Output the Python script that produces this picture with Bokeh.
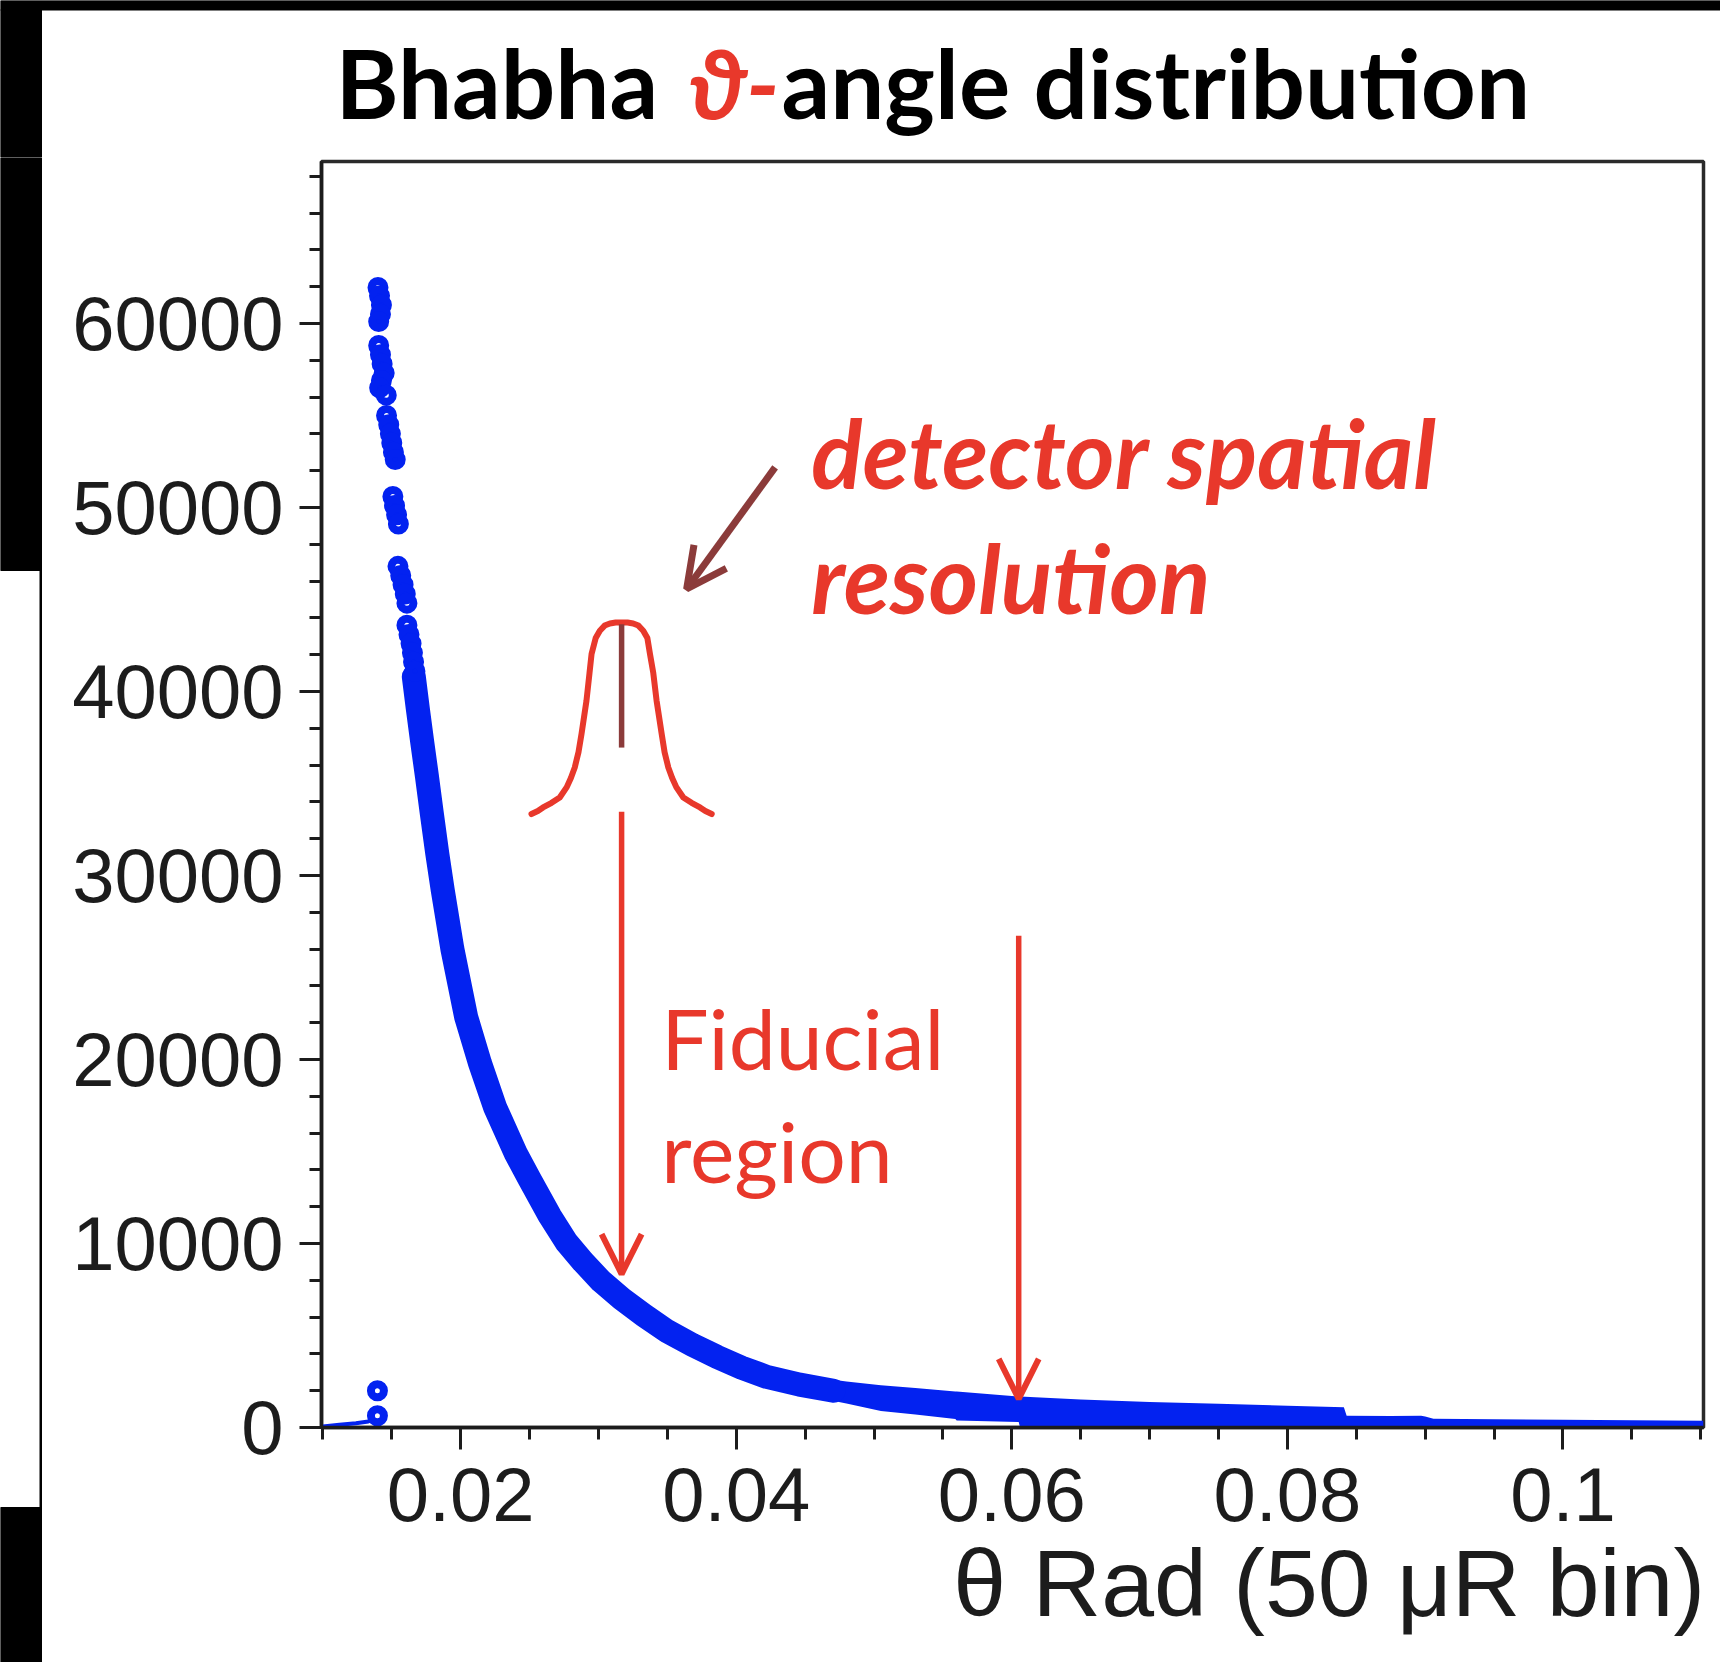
from bokeh.plotting import figure
from bokeh.layouts import column, row
from bokeh.models import (FixedTicker, Arrow, OpenHead, Range1d,
                          PrintfTickFormatter)
from bokeh.core.properties import value
from bokeh.embed import file_html
from bokeh.resources import INLINE

# ---------------------------------------------------------------- data
# steep low-angle part: individual bins (theta [rad], counts)
theta_pts = [0.01400, 0.01411, 0.01425, 0.01418, 0.01405,
             0.01405, 0.01418, 0.01430, 0.01445, 0.01425, 0.01412, 0.01460,
             0.01462, 0.01478, 0.01490, 0.01500, 0.01512, 0.01525,
             0.01508, 0.01520, 0.01535, 0.01548,
             0.01545, 0.01565, 0.01582, 0.01598, 0.01610,
             0.01610, 0.01625, 0.01640, 0.01650, 0.01658, 0.01668,
             0.01396, 0.01396]
counts_pts = [61950, 61500, 61000, 60500, 60100,
              58800, 58300, 57800, 57300, 56900, 56500, 56100,
              55000, 54500, 54000, 53500, 53000, 52600,
              50600, 50100, 49600, 49100,
              46800, 46300, 45800, 45300, 44800,
              43600, 43100, 42600, 42100, 41600, 41100,
              1995, 636]

# low-count entries below the acceptance edge
theta_low = [0.0100, 0.0112, 0.0124, 0.0133, 0.0138]
counts_low = [60, 150, 230, 330, 450]

# dense part of the distribution (band centre)
theta_band = [0.01660, 0.01690, 0.01720, 0.01755, 0.01790, 0.01830, 0.01870,
              0.01940, 0.02040, 0.02140, 0.02250, 0.02400, 0.02500, 0.02647,
              0.02770, 0.02889, 0.03020, 0.03168, 0.03330, 0.03495, 0.03680,
              0.03858, 0.04040, 0.04222, 0.04460, 0.04706]
counts_band = [40800, 39000, 37300, 35400, 33400, 31200, 29200,
               26000, 22300, 19800, 17400, 14900, 13500, 11500,
               10050, 9000, 7950, 7000, 6100, 5250, 4500,
               3850, 3250, 2750, 2330, 2000]

# large-angle tail: spread of the bins (lower / upper envelope)
theta_tail = [0.0460, 0.0480, 0.0505, 0.0530, 0.0559, 0.0560, 0.0605, 0.0606,
              0.0650, 0.0700, 0.0750, 0.0800, 0.0841, 0.0843, 0.0875, 0.0897,
              0.0900, 0.0906, 0.0950, 0.1000, 0.1050, 0.1102]
tail_lo = [1600, 1300, 900, 700, 460, 380, 300, 0,
           0, 0, 0, 0, 0, 0, 0, 0,
           0, 0, 0, 0, 0, 0]
tail_hi = [2700, 2500, 2300, 2150, 1950, 1950, 1680, 1680,
           1520, 1380, 1290, 1180, 1100, 640, 620, 640,
           600, 470, 450, 420, 400, 370]

# sketch of the detector resolution above the fiducial edge
gauss_x = [0.02514, 0.02560, 0.02598, 0.02660, 0.02719, 0.02770, 0.02800,
           0.02828, 0.02855, 0.02877, 0.02913, 0.02935, 0.02950, 0.02980,
           0.03010, 0.03045, 0.03083, 0.03125, 0.03168, 0.03211, 0.03252,
           0.03290, 0.03325, 0.03355, 0.03374, 0.03398, 0.03422, 0.03459,
           0.03480, 0.03507, 0.03535, 0.03565, 0.03616, 0.03676, 0.03737,
           0.03776, 0.03822]
gauss_y = [33338, 33500, 33697, 33950, 34240, 34800, 35300,
           35870, 36700, 37686, 39497, 41000, 42034, 42900,
           43301, 43580, 43697, 43745, 43752, 43745, 43697,
           43580, 43301, 42900, 42034, 41000, 39497, 37686,
           36700, 35870, 35300, 34800, 34240, 33950, 33697,
           33500, 33338]

# fiducial region limits
fid_x = [0.03168, 0.0605]
fid_top = [33460, 26720]
fid_tip = [8340, 1560]

x_ticks = [0.02, 0.04, 0.06, 0.08, 0.10]
y_ticks = [0, 10000, 20000, 30000, 40000, 50000, 60000]

BLUE = "#0322F0"
RED = "#E8382B"
BROWN = "#8B3B3A"
INK = "#1c1c1c"

W, H = 1720, 1662
TOP_H = 157          # title strip height
SIDE_W = 42          # left page-edge strip width


def bare(width, height, xr, yr):
    f = figure(width=width, height=height, x_range=xr, y_range=yr,
               x_axis_type=None, y_axis_type=None,
               output_backend="svg", toolbar_location=None, min_border=0)
    f.outline_line_color = None
    f.background_fill_color = "white"
    f.border_fill_color = "white"
    if "frame_align" in f.properties():
        f.frame_align = False
    return f


# ---------------------------------------------------------------- title strip
top = bare(W, TOP_H, Range1d(0, W), Range1d(TOP_H, 0))
top.quad(left=[0, 0], right=[W, 41], top=[0, 9.5], bottom=[9.5, TOP_H],
         color="black")
top.text(x=[335], y=[81], text=["Bhabha"], text_color="black",
         text_font=value("Lato"), text_font_style="bold",
         text_font_size="96px", text_baseline="alphabetic")
top.text(x=[688], y=[81], text=["\u03d1-"], text_color=RED,
         text_font=value("Lato"), text_font_style="bold italic",
         text_font_size="96px", text_baseline="alphabetic")
top.text(x=[781], y=[81], text=["angle distribution"], text_color="black",
         text_font=value("Lato"), text_font_style="bold",
         text_font_size="96px", text_baseline="alphabetic")

# ---------------------------------------------------------------- left strip
side = bare(SIDE_W, H - TOP_H, Range1d(0, SIDE_W), Range1d(H, TOP_H))
side.quad(left=[0, 39.5, 0], right=[41, 42, 41],
          top=[TOP_H, 570, 1507], bottom=[570, 1507, H], color="black")

# ---------------------------------------------------------------- main plot
p = figure(width=W - SIDE_W, height=H - TOP_H,
           x_range=Range1d(0.0099, 0.1102), y_range=Range1d(0, 68800),
           output_backend="svg", toolbar_location=None,
           min_border_left=321 - SIDE_W, min_border_right=17,
           min_border_top=4, min_border_bottom=235)
if "frame_align" in p.properties():
    p.frame_align = False
p.background_fill_color = "white"
p.border_fill_color = "white"
p.xgrid.visible = False
p.ygrid.visible = False
p.outline_line_color = "#2a2a2a"
p.outline_line_width = 3.5

p.xaxis.ticker = FixedTicker(
    ticks=x_ticks,
    minor_ticks=[round(0.01 + 0.005 * i, 3) for i in range(21)])
p.yaxis.ticker = FixedTicker(
    ticks=y_ticks,
    minor_ticks=[2000 * i for i in range(35)])
p.axis.formatter = PrintfTickFormatter(format="%g")

for ax in (p.xaxis[0], p.yaxis[0]):
    ax.axis_line_width = 3.5
    ax.axis_line_color = INK
    ax.major_tick_in = 0
    ax.minor_tick_in = 0
    ax.major_tick_out = 22
    ax.minor_tick_out = 12
    ax.major_tick_line_width = 3
    ax.minor_tick_line_width = 3
    ax.major_tick_line_color = INK
    ax.minor_tick_line_color = INK
    ax.major_label_text_font = "Liberation Sans"
    ax.major_label_text_font_size = "76px"
    ax.major_label_text_color = INK
p.xaxis.major_label_standoff = 18
p.yaxis.major_label_standoff = 16

# axis title sits flush with the right end of the axis
xa = p.xaxis[0]
xa.axis_label = "\u00a0" * 24 + "\u03b8 Rad (50 \u03bcR bin)"
xa.axis_label_text_font = "Liberation Sans"
xa.axis_label_text_font_size = "95px"
xa.axis_label_text_font_style = "normal"
xa.axis_label_text_color = INK
xa.axis_label_standoff = 6

# ---------------------------------------------------------------- data marks
p.varea(x=theta_tail, y1=tail_lo, y2=tail_hi, color=BLUE)
p.line(theta_band, counts_band, line_width=24, color=BLUE,
       line_join="round", line_cap="round")
p.line(theta_low, counts_low, line_width=4, color=BLUE)
p.scatter(theta_pts, counts_pts, marker="circle", size=13, line_width=8,
          line_color=BLUE, fill_color=None)

# ---------------------------------------------------------------- annotations
p.line(gauss_x, gauss_y, line_width=6, color=RED,
       line_join="round", line_cap="round")
p.segment(x0=[gauss_x[18]], y0=[43650], x1=[gauss_x[18]], y1=[36950],
          line_width=5.5, color=BROWN)

p.text(x=[0.04544, 0.04544], y=[53015, 46195],
       text=["detector spatial", "resolution"], text_color=RED,
       text_font=value("Lato"), text_font_style="bold italic",
       text_font_size="95px", text_baseline="alphabetic")
p.text(x=[0.03455, 0.03455], y=[21200, 15080],
       text=["Fiducial", "region"], text_color=RED,
       text_font=value("Lato"), text_font_size="84px",
       text_baseline="alphabetic")

p.add_layout(Arrow(end=OpenHead(size=40, line_width=7, line_color=BROWN),
                   x_start=0.04282, y_start=52180, x_end=0.0364, y_end=45570,
                   line_width=7, line_color=BROWN))
for xf, yt, yb in zip(fid_x, fid_top, fid_tip):
    p.add_layout(Arrow(end=OpenHead(size=40, line_width=6, line_color=RED),
                       x_start=xf, y_start=yt, x_end=xf, y_end=yb,
                       line_width=5.5, line_color=RED))

page = column(top, row(side, p))
open("out.html", "w").write(file_html(page, INLINE))
